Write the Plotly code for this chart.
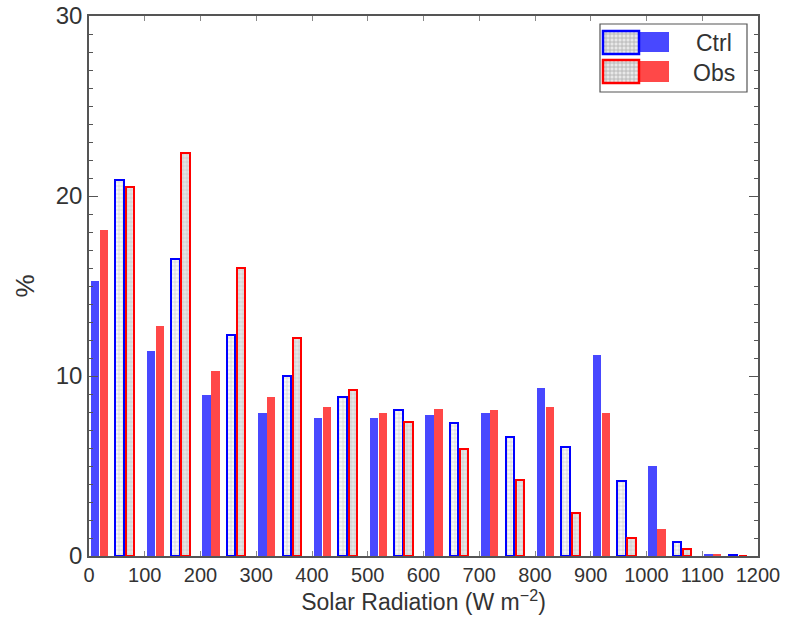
import plotly.graph_objects as go

# ---- data ----
bins = [0, 100, 200, 300, 400, 500, 600, 700, 800, 900, 1000, 1100]
ctrl_solid = [15.3, 11.4, 8.95, 7.97, 7.66, 7.64, 7.83, 7.96, 9.32, 11.16, 4.99, 0.08]
obs_solid = [18.1, 12.8, 10.3, 8.86, 8.29, 7.97, 8.14, 8.10, 8.29, 7.96, 1.51, 0.08]
ctrl_hatch = [20.9, 16.5, 12.3, 10.0, 8.84, 8.12, 7.40, 6.60, 6.04, 4.16, 0.76, 0.05]
obs_hatch = [20.5, 22.4, 16.0, 12.1, 9.24, 7.46, 5.95, 4.24, 2.41, 0.98, 0.40, 0.0]
x_ticks = [0, 100, 200, 300, 400, 500, 600, 700, 800, 900, 1000, 1100, 1200]
y_ticks = [0, 10, 20, 30]

BLUE = "rgb(72,72,255)"
RED = "rgb(255,72,72)"
BAR_W = 15
offsets = {"cs": 11, "os": 27, "ch": 55, "oh": 73}

fig = go.Figure()
fig.add_trace(go.Bar(x=[b + offsets["cs"] for b in bins], y=ctrl_solid, width=BAR_W,
                     marker=dict(color=BLUE, line=dict(width=0)), showlegend=False))
fig.add_trace(go.Bar(x=[b + offsets["os"] for b in bins], y=obs_solid, width=BAR_W,
                     marker=dict(color=RED, line=dict(width=0)), showlegend=False))
fig.add_trace(go.Bar(x=[b + offsets["ch"] for b in bins], y=ctrl_hatch, width=BAR_W,
                     marker=dict(color="#f6f6f6", line=dict(width=2, color="#0000ff"),
                                 pattern=dict(shape="+", size=4, solidity=0.25,
                                              fgcolor="#9a9a9a", bgcolor="#f6f6f6")),
                     showlegend=False))
fig.add_trace(go.Bar(x=[b + offsets["oh"] for b in bins], y=obs_hatch, width=BAR_W,
                     marker=dict(color="#dcdcdc", line=dict(width=2, color="#ff0000"),
                                 pattern=dict(shape="+", size=4, solidity=0.25,
                                              fgcolor="#a0a0a0", bgcolor="#e4e4e4")),
                     showlegend=False))

# ---- layout geometry (pixels) ----
W, H = 798, 627
L, R, T, B = 89, 40, 16, 71
pw, ph = W - L - R, H - T - B

def px(xp):
    return (xp - L) / pw

def py(yp):
    return (H - B - yp) / ph

shapes = []
annotations = []
# legend box
shapes.append(dict(type="rect", xref="paper", yref="paper", x0=px(600), x1=px(747),
                   y0=py(92), y1=py(24), line=dict(color="#555", width=1.2),
                   fillcolor="white", layer="above"))

def hatched_swatch(x0, x1, y0, y1, border):
    shapes.append(dict(type="rect", xref="paper", yref="paper", x0=px(x0), x1=px(x1),
                       y0=py(y1), y1=py(y0), fillcolor="#e8e8e8", line=dict(width=0),
                       layer="above"))
    path = ""
    xx = x0 + 3
    while xx < x1 - 1:
        path += f"M{px(xx)},{py(y0)} L{px(xx)},{py(y1)} "
        xx += 4
    yy = y0 + 3
    while yy < y1 - 1:
        path += f"M{px(x0)},{py(yy)} L{px(x1)},{py(yy)} "
        yy += 4
    shapes.append(dict(type="path", xref="paper", yref="paper", path=path,
                       line=dict(color="#b0b0b0", width=0.8), layer="above"))
    shapes.append(dict(type="rect", xref="paper", yref="paper", x0=px(x0), x1=px(x1),
                       y0=py(y1), y1=py(y0), line=dict(color=border, width=2.5),
                       layer="above"))

def solid_swatch(x0, x1, y0, y1, color):
    shapes.append(dict(type="rect", xref="paper", yref="paper", x0=px(x0), x1=px(x1),
                       y0=py(y1), y1=py(y0), fillcolor=color, line=dict(width=0),
                       layer="above"))

solid_swatch(639, 669, 32, 52, BLUE)
hatched_swatch(603, 639, 31, 54, "#0000ff")
solid_swatch(639, 669, 61, 82, RED)
hatched_swatch(603, 639, 60, 83, "#ff0000")
annotations.append(dict(text="Ctrl", xref="paper", yref="paper", x=px(714), y=py(43),
                        xanchor="center", yanchor="middle",
                        showarrow=False, font=dict(size=23, color="#333")))
annotations.append(dict(text="Obs", xref="paper", yref="paper", x=px(714), y=py(73),
                        xanchor="center", yanchor="middle",
                        showarrow=False, font=dict(size=23, color="#333")))

fig.update_layout(
    width=W, height=H,
    margin=dict(l=L, r=R, t=T, b=B, autoexpand=False),
    paper_bgcolor="white", plot_bgcolor="white",
    barmode="overlay", bargap=0,
    font=dict(family="Liberation Sans, Arial, sans-serif", size=20, color="#333"),
    shapes=shapes, annotations=annotations,
    showlegend=False,
)
fig.update_xaxes(range=[0, 1200], tickvals=x_ticks, ticktext=[str(v) for v in x_ticks],
                 ticks="inside", ticklen=5, tickcolor="#888", tickwidth=1,
                 showline=True, linecolor="#555", linewidth=1.5, mirror="ticks",
                 showgrid=False, zeroline=False, tickfont=dict(size=20), automargin=False,
                 ticklabeloverflow="allow",
                 title=dict(text="Solar Radiation (W m<sup>−2</sup>)", font=dict(size=23),
                            standoff=6))
fig.update_yaxes(range=[0, 30], tickvals=y_ticks,
                 ticks="inside", ticklen=9, tickcolor="#555", tickwidth=1.2,
                 minor=dict(dtick=1, ticks="inside", ticklen=4, tickcolor="#555"),
                 showline=True, linecolor="#555", linewidth=1.5, mirror="ticks",
                 showgrid=False, zeroline=False, tickfont=dict(size=24), automargin=False,
                 ticklabeloverflow="allow",
                 title=dict(text="%", font=dict(size=26), standoff=14))

fig.write_html("out.html")
